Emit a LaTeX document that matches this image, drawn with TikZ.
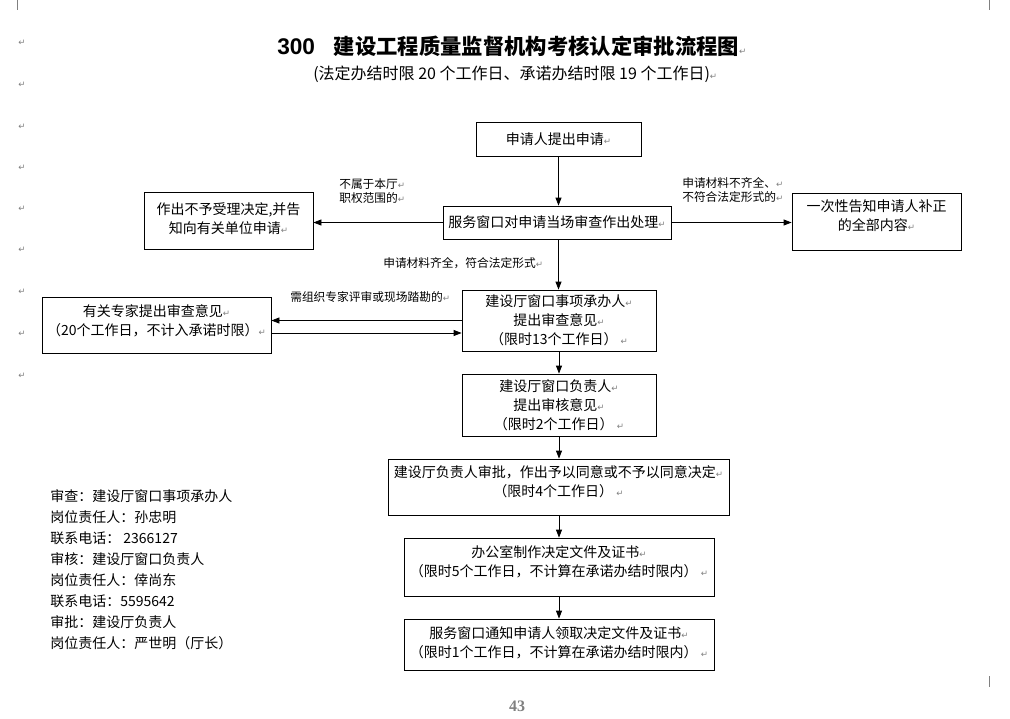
\documentclass[tikz,border=0pt]{standalone}
\usepackage{fontspec}
\setmainfont{Noto Sans CJK SC}
\newfontfamily\dejavu{DejaVu Sans}
\newfontfamily\arialfont{Liberation Sans}
\newfontfamily\serifnum{Liberation Serif}
\usetikzlibrary{arrows.meta}

% paragraph mark as in the scanned page
\newcommand{\retmark}{{\dejavu\fontsize{6.5}{6.5}\selectfont\color{gray}↵}}

\begin{document}
\begin{tikzpicture}[x=0.75pt, y=-0.75pt, >={Triangle[length=6pt, width=4.5pt]},
    box/.style={draw, line width=0.6pt, inner sep=0pt, align=center,
        font=\fontsize{10.5}{14.2}\selectfont},
    wh/.style 2 args={minimum width=#1*0.75pt, minimum height=#2*0.75pt},
    note/.style={inner sep=0pt, align=left, font=\fontsize{8.8}{10.5}\selectfont},
    flow/.style={->, line width=0.6pt}]
    \useasboundingbox (0,0) rectangle (1010,718);

    % Title
    \node[anchor=west, inner sep=0pt] (title) at (277,46)
        {{\arialfont\bfseries\fontsize{17}{20}\selectfont 300}\hspace{14pt}{\bfseries\fontsize{16}{20}\selectfont 建设工程质量监督机构考核认定审批流程图}\retmark};
    \node[anchor=west, inner sep=0pt, font=\fontsize{12}{15}\selectfont] (subtitle) at (313,74)
        {(法定办结时限 20 个工作日、承诺办结时限 19 个工作日)\retmark};

    % Define boxes
    \node[box, wh={165}{34}] (apply) at (558.5,139) {申请人提出申请\retmark};
    \node[box, wh={228}{33}] (check) at (557,222.5) {服务窗口对申请当场审查作出处理\retmark};
    \node[box, wh={169}{57}, text depth=4pt] (reject) at (228.5,220.5) {作出不予受理决定,并告\\知向有关单位申请\retmark};
    \node[box, wh={169}{57}, text depth=9pt] (inform) at (876.5,221.5) {一次性告知申请人补正\\的全部内容\retmark};
    \node[box, wh={229}{56}, text depth=8pt] (expert) at (156.5,325) {有关专家提出审查意见\retmark\\（20个工作日，不计入承诺时限）\retmark};
    \node[box, wh={194}{61}] (handle) at (559,320.5) {建设厅窗口事项承办人\retmark\\提出审查意见\retmark\\（限时13个工作日） \retmark};
    \node[box, wh={194}{62}] (chief) at (559,405) {建设厅窗口负责人\retmark\\提出审核意见\retmark\\（限时2个工作日） \retmark};
    \node[box, wh={341}{56}, text depth=9pt] (approve) at (558.5,487) {建设厅负责人审批，作出予以同意或不予以同意决定\retmark\\（限时4个工作日） \retmark};
    \node[box, wh={310}{58}, text depth=9pt] (office) at (559,567) {办公室制作决定文件及证书\retmark\\（限时5个工作日，不计算在承诺办结时限内） \retmark};
    \node[box, wh={310}{51}, text depth=4pt] (notice) at (559,644.5) {服务窗口通知申请人领取决定文件及证书\retmark\\（限时1个工作日，不计算在承诺办结时限内） \retmark};

    % Labels on the connectors
    \node[note, anchor=north west] (outside) at (339,178) {不属于本厅\retmark\\职权范围的\retmark};
    \node[note, anchor=north west] (lacking) at (682,177) {申请材料不齐全、\retmark\\不符合法定形式的\retmark};
    \node[note, anchor=west] (complete) at (383,263) {申请材料齐全，符合法定形式\retmark};
    \node[note, anchor=west] (review) at (290,297) {需组织专家评审或现场踏勘的\retmark};

    % Transitions between boxes
    \draw[flow] (apply.south) -- (apply.south |- check.north);
    \draw[flow] (check.west) -- (check.west -| reject.east);
    \draw[flow] (check.east) -- (check.east -| inform.west);
    \draw[flow] (apply.south |- check.south) -- (apply.south |- handle.north);
    \draw[flow] (handle.west) -- (handle.west -| expert.east);
    \coordinate (back) at ([yshift=-6pt]expert.east);
    \draw[flow] (back) -- (back -| handle.west);
    \draw[flow] (handle.south) -- (chief.north);
    \draw[flow] (chief.south) -- (chief.south |- approve.north);
    \draw[flow] (chief.south |- approve.south) -- (chief.south |- office.north);
    \draw[flow] (chief.south |- office.south) -- (chief.south |- notice.north);

    % Persons in charge
    \node[anchor=north west, inner sep=0pt, align=left, font=\fontsize{10.5}{15.75}\selectfont] (staff) at (50,489)
        {审查：建设厅窗口事项承办人\\岗位责任人：孙忠明\\联系电话： 2366127\\审核：建设厅窗口负责人\\岗位责任人：倖尚东\\联系电话：5595642\\审批：建设厅负责人\\岗位责任人：严世明（厅长）};

    % Page marks
    \foreach \y [count=\i] in {43,85,127,168,209,250,292,334,376}
        \node[inner sep=0pt] (mark\i) at (22,\y) {\retmark};
    \draw[gray, line width=0.6pt] (17,0) -- (17,10) (989,0) -- (989,10) (989,676) -- (989,687);
    \node[inner sep=0pt, text=gray] (page) at (517,706) {\serifnum\bfseries\fontsize{12}{12}\selectfont 43};

\end{tikzpicture}
\end{document}
